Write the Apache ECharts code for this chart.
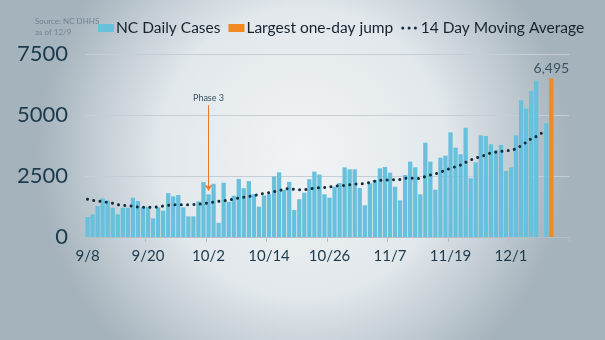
<!DOCTYPE html>
<html><head><meta charset="utf-8">
<script src="https://cdn.jsdelivr.net/npm/echarts@6/dist/echarts.min.js"></script>
<style>html,body{margin:0;padding:0;background:#e6ebee;}#c{width:605px;height:340px;}</style>
</head><body><div id="c"></div>
<script>
// Categories: daily dates 9/8 .. 12/12 (axis runs a few days past last data point)
const categories = [];
for (let i = 0; i < 96; i++) {
  const d = new Date(2020, 8, 8 + i);
  categories.push((d.getMonth() + 1) + '/' + d.getDate());
}

// NC daily cases, 9/8 .. 12/8
const dailyCases = [
  820, 930, 1270, 1585, 1490, 1200, 930, 1200, 1200, 1610,
  1475, 1240, 1240, 765, 1215, 1080, 1800, 1665, 1720, 1215,
  845, 845, 1460, 2250, 1750, 2180, 580, 2225, 1440, 1690,
  2380, 2000, 2290, 1750, 1245, 1700, 1760, 2480, 2650, 1930,
  2260, 1105, 1550, 1815, 2370, 2680, 2560, 1750, 1610, 2060,
  2215, 2855, 2775, 2775, 2010, 1300, 2200, 2335, 2815, 2870,
  2635, 2060, 1500, 2540, 3090, 2855, 1750, 3865, 3090, 1940,
  3250, 3335, 4290, 3660, 3390, 4480, 2405, 3060, 4165, 4140,
  3800, 3550, 3770, 2705, 2855, 4165, 5600, 5270, 5980, 6405,
  null, 4660
];

// Largest one-day jump
const jumpDate = '12/9';
const jumpValue = 6495;

// 14-day moving average, 9/8 .. 12/8
const movingAverage = [
  1545, 1500, 1470, 1450, 1420, 1385, 1320, 1300, 1285, 1260,
  1230, 1215, 1215, 1215, 1235, 1270, 1300, 1325, 1325, 1325,
  1325, 1330, 1345, 1360, 1405, 1430, 1460, 1485, 1510, 1560,
  1600, 1630, 1660, 1695, 1740, 1790, 1820, 1860, 1900, 1960,
  1990, 1950, 1940, 1940, 1960, 2005, 2020, 2030, 2050, 2080,
  2110, 2115, 2140, 2170, 2170, 2200, 2230, 2290, 2320, 2335,
  2340, 2345, 2355, 2410, 2420, 2400, 2390, 2480, 2540, 2590,
  2650, 2740, 2820, 2880, 2950, 3060, 3160, 3230, 3300, 3360,
  3450, 3480, 3510, 3540, 3540, 3620, 3740, 3880, 4030, 4120,
  4250, 4400
];

const yTicks = [0, 2500, 5000, 7500];
const phase3Date = '10/2';
const phase3Range = [5400, 1900];

const FONT = 'Lato';
const DARK = '#1c3a4b';

const barData = categories.map((c, i) => (i < dailyCases.length ? dailyCases[i] : null));
const jumpData = categories.map(c => (c === jumpDate ? jumpValue : null));
const maData = categories.map((c, i) => (i < movingAverage.length ? movingAverage[i] : null));

const chart = echarts.init(document.getElementById('c'), null, {renderer: 'canvas'});
chart.setOption({
  animation: false,
  backgroundColor: new echarts.graphic.RadialGradient(0.5, 0.45, 0.78, [
    {offset: 0, color: '#f1f4f6'},
    {offset: 0.55, color: '#e1e7eb'},
    {offset: 1, color: '#a5b3bc'}
  ]),
  textStyle: {fontFamily: FONT},
  title: {
    text: 'Source: NC DHHS\nas of 12/9',
    left: 30, top: 11,
    textStyle: {fontSize: 8, lineHeight: 11, color: '#6f8592', fontWeight: 'normal', fontFamily: FONT}
  },
  legend: {
    left: 93, top: 15, width: 520,
    itemWidth: 16, itemHeight: 8, itemGap: 8,
    textStyle: {fontSize: 15.5, color: '#16232c', fontFamily: FONT, padding: [0, 0, 0, -3]},
    lineStyle: {width: 3},
    data: [
      {name: 'NC Daily Cases', icon: 'rect'},
      {name: 'Largest one-day jump', icon: 'rect'},
      {name: '14 Day Moving Average', itemStyle: {opacity: 0}}
    ]
  },
  grid: {left: 85, right: 36, top: 54, bottom: 103},
  xAxis: {
    type: 'category',
    data: categories,
    boundaryGap: true,
    axisLine: {show: true, lineStyle: {color: '#b4bec5', width: 1}},
    axisTick: {show: true, interval: 11, length: 5, lineStyle: {color: '#b4bec5'}},
    axisLabel: {interval: 11, fontSize: 15, color: DARK, margin: 12, fontFamily: FONT}
  },
  yAxis: {
    type: 'value',
    min: yTicks[0], max: yTicks[yTicks.length - 1], interval: 2500,
    axisLabel: {fontSize: 22, color: DARK, margin: 17, fontFamily: FONT,
      formatter: v => String(v)},
    splitLine: {lineStyle: {color: '#c5ced4', width: 1}},
    axisLine: {show: false}, axisTick: {show: false}
  },
  series: [
    {
      name: 'NC Daily Cases', type: 'bar', data: barData,
      barWidth: '85%', barGap: '-100%',
      itemStyle: {color: '#68c0dc'},
      markLine: {
        silent: true, symbol: ['none', 'arrow'], symbolSize: 6,
        lineStyle: {color: '#e8792a', width: 1, type: 'solid'},
        label: {show: true, position: 'start', formatter: 'Phase 3', fontSize: 9, color: '#34505f', distance: 3, fontFamily: FONT},
        data: [[{coord: [phase3Date, phase3Range[0]]}, {coord: [phase3Date, phase3Range[1]]}]]
      }
    },
    {
      name: 'Largest one-day jump', type: 'bar', data: jumpData,
      barWidth: '85%', barGap: '-100%',
      itemStyle: {color: '#f08a22'},
      label: {
        show: true, position: 'top', distance: 3, fontSize: 14, color: '#3b5566', fontFamily: FONT,
        formatter: p => p.value.toLocaleString('en-US')
      }
    },
    {
      name: '14 Day Moving Average', type: 'line', data: maData,
      showSymbol: false, symbol: 'none',
      lineStyle: {color: '#0f2d3b', width: 3, type: [0.01, 6.3], cap: 'round'},
      itemStyle: {color: '#0f2d3b'},
      z: 5
    }
  ]
});
</script></body></html>
